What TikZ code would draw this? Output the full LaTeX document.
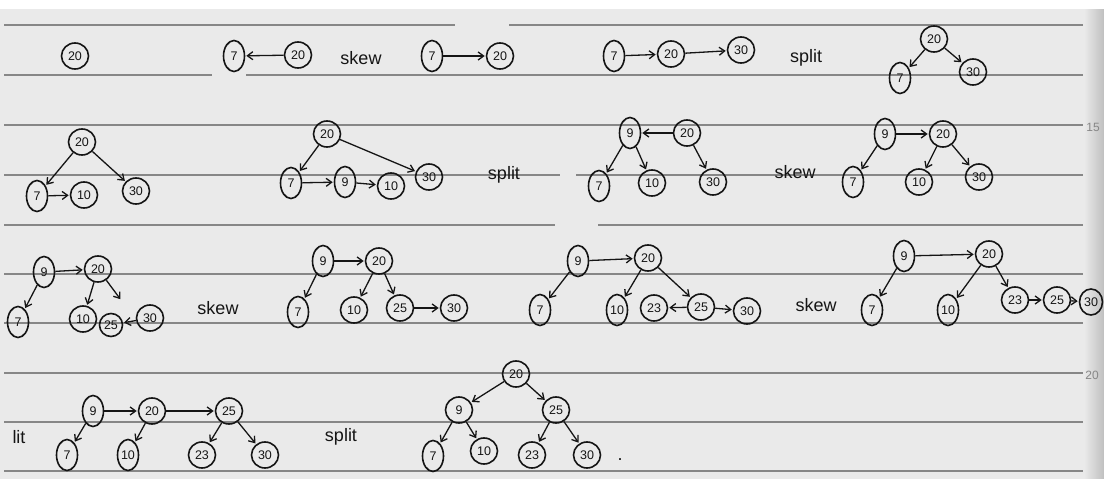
\documentclass[tikz,border=0pt]{standalone}
\usepackage{fontspec}
\setmainfont{Liberation Sans}
\usetikzlibrary{arrows.meta,shapes.geometric}
\definecolor{ink}{HTML}{151515}
\definecolor{paper}{HTML}{EAEAEA}
\definecolor{rule}{HTML}{878787}
\begin{document}
\begin{tikzpicture}[x=1pt,y=-1pt,
  pen/.style={draw=ink, line width=1.6pt},
  nd/.style={pen, ellipse, inner sep=0pt, minimum width=27pt, minimum height=26pt,
    text=ink, font=\fontsize{12.5}{12.5}\selectfont},
  tl/.style={nd, minimum width=21pt, minimum height=31pt},
  ar/.style={draw=ink, line width=1.3pt, -{Straight Barb[length=5.5pt,width=8pt]}, shorten >=1pt},
  word/.style={text=ink, font=\fontsize{18}{18}\selectfont},
  margin/.style={text=rule, font=\fontsize{12}{12}\selectfont}]
% sheet
\useasboundingbox (0,0) rectangle (1104,479);
\fill[white] (0,0) rectangle (1104,9);
\fill[paper] (0,9) rectangle (1104,479);
\shade[left color=paper, right color=black!25] (1084,9) rectangle (1104,479);
% ruled lines
\foreach \y in {125,274,323,373,422,471} \draw[rule, line width=1.2pt] (4,\y) -- (1083,\y);
\draw[rule, line width=1.2pt] (4,25) -- (455,25) (509,25) -- (1083,25);
\draw[rule, line width=1.2pt] (4,75) -- (212,75) (246,75) -- (1083,75);
\draw[rule, line width=1.2pt] (4,175) -- (560,175) (576,175) -- (1083,175);
\draw[rule, line width=1.2pt] (4,225) -- (555,225) (598,225) -- (1083,225);
\node[margin] (m15) at (1093,127) {15};
\node[margin] (m20) at (1092,375) {20};

% ---- first line: inserting 20, 7, 30
\node[nd] (a20) at (75,56) {20};
\node[tl] (b7) at (234,56) {7};
\node[nd] (b20) at (298,55) {20};
\draw[ar] (b20) -- (b7);
\node[word] (skew1) at (361,58) {skew};
\node[tl] (c7) at (432,56) {7};
\node[nd] (c20) at (500,56) {20};
\draw[ar] (c7) -- (c20);
\node[tl] (d7) at (614,56) {7};
\node[nd] (d20) at (671,54) {20};
\node[nd] (d30) at (741,50) {30};
\draw[ar] (d7) -- (d20);
\draw[ar] (d20) -- (d30);
\node[word] (split1) at (806,58) {split};
\node[nd] (e20) at (934,39) {20};
\node[tl] (e7) at (900,78) {7};
\node[nd] (e30) at (973,72) {30};
\draw[ar] (e20) -- (e7);
\draw[ar] (e20) -- (e30);

% ---- second line: inserting 10, 9
\node[nd] (f20) at (82,142) {20};
\node[tl] (f7) at (37,196) {7};
\node[nd] (f10) at (84,195) {10};
\node[nd] (f30) at (136,191) {30};
\draw[ar] (f20) -- (f7);
\draw[ar] (f20) -- (f30);
\draw[ar] (f7) -- (f10);
\node[nd] (g20) at (327,134) {20};
\node[tl] (g7) at (291,183) {7};
\node[tl] (g9) at (345,182) {9};
\node[nd] (g10) at (391,186) {10};
\node[nd] (g30) at (429,177) {30};
\draw[ar] (g20) -- (g7);
\draw[ar] (g7) -- (g9);
\draw[ar] (g9) -- (g10);
\draw[ar] (g20) -- (g30);
\node[word] (split2) at (504,175) {split};
\node[tl] (h9) at (630,133) {9};
\node[nd] (h20) at (687,133) {20};
\node[tl] (h7) at (599,186) {7};
\node[nd] (h10) at (652,183) {10};
\node[nd] (h30) at (713,182) {30};
\draw[ar] (h20) -- (h9);
\draw[ar] (h9) -- (h7);
\draw[ar] (h9) -- (h10);
\draw[ar] (h20) -- (h30);
\node[word] (skew2) at (795,172) {skew};
\node[tl] (i9) at (885,134) {9};
\node[nd] (i20) at (943,134) {20};
\node[tl] (i7) at (853,182) {7};
\node[nd] (i10) at (919,182) {10};
\node[nd] (i30) at (979,177) {30};
\draw[ar] (i9) -- (i20);
\draw[ar] (i9) -- (i7);
\draw[ar] (i20) -- (i10);
\draw[ar] (i20) -- (i30);

% ---- third line: inserting 25, 23
\node[tl] (j9) at (44,272) {9};
\node[nd] (j20) at (98,269) {20};
\node[tl] (j7) at (18,322) {7};
\node[nd] (j10) at (83,319) {10};
\node[nd, minimum width=23pt, minimum height=23pt] (j25) at (111,325) {25};
\node[nd] (j30) at (150,318) {30};
\coordinate (jend) at (121,300);
\draw[ar] (j9) -- (j20);
\draw[ar] (j9) -- (j7);
\draw[ar] (j20) -- (j10);
\draw[ar] (j20) -- (jend);
\draw[ar] (j30) -- (j25);
\node[word] (skew3) at (218,308) {skew};
\node[tl] (k9) at (323,261) {9};
\node[nd] (k20) at (379,261) {20};
\node[tl] (k7) at (298,312) {7};
\node[nd] (k10) at (354,310) {10};
\node[nd] (k25) at (400,308) {25};
\node[nd] (k30) at (454,308) {30};
\draw[ar] (k9) -- (k20);
\draw[ar] (k9) -- (k7);
\draw[ar] (k20) -- (k10);
\draw[ar] (k20) -- (k25);
\draw[ar] (k25) -- (k30);
\node[tl] (l9) at (578,261) {9};
\node[nd] (l20) at (648,258) {20};
\node[tl] (l7) at (540,310) {7};
\node[tl] (l10) at (617,310) {10};
\node[nd] (l23) at (654,308) {23};
\node[nd] (l25) at (701,307) {25};
\node[nd] (l30) at (747,311) {30};
\draw[ar] (l9) -- (l20);
\draw[ar] (l9) -- (l7);
\draw[ar] (l20) -- (l10);
\draw[ar] (l20) -- (l25);
\draw[ar] (l25) -- (l23);
\draw[ar] (l25) -- (l30);
\node[word] (skew4) at (816,305) {skew};
\node[tl] (m9) at (904,256) {9};
\node[nd] (m20) at (989,254) {20};
\node[tl] (m7) at (872,310) {7};
\node[tl] (m10) at (948,310) {10};
\node[nd] (m23) at (1015,300) {23};
\node[nd] (m25) at (1057,300) {25};
\node[nd, minimum width=23pt] (m30) at (1091,302) {30};
\draw[ar] (m9) -- (m20);
\draw[ar] (m9) -- (m7);
\draw[ar] (m20) -- (m10);
\draw[ar] (m20) -- (m23);
\draw[ar] (m23) -- (m25);
\draw[ar] (m25) -- (m30);

% ---- fourth line: final split
\node[word] (lit) at (19,437) {lit};
\node[tl] (n9) at (93,411) {9};
\node[nd] (n20) at (152,411) {20};
\node[nd] (n25) at (229,411) {25};
\node[tl] (n7) at (67,455) {7};
\node[tl] (n10) at (128,455) {10};
\node[nd] (n23) at (202,455) {23};
\node[nd] (n30) at (265,455) {30};
\draw[ar] (n9) -- (n20);
\draw[ar] (n20) -- (n25);
\draw[ar] (n9) -- (n7);
\draw[ar] (n20) -- (n10);
\draw[ar] (n25) -- (n23);
\draw[ar] (n25) -- (n30);
\node[word] (split3) at (341,437) {split};
\node[nd] (o20) at (516,374) {20};
\node[nd] (o9) at (459,410) {9};
\node[nd] (o25) at (556,410) {25};
\node[tl] (o7) at (433,456) {7};
\node[nd] (o10) at (484,451) {10};
\node[nd] (o23) at (532,455) {23};
\node[nd] (o30) at (587,455) {30};
\draw[ar] (o20) -- (o9);
\draw[ar] (o20) -- (o25);
\draw[ar] (o9) -- (o7);
\draw[ar] (o9) -- (o10);
\draw[ar] (o25) -- (o23);
\draw[ar] (o25) -- (o30);
\node[word] (stop) at (620,460) {.};
\end{tikzpicture}
\end{document}
